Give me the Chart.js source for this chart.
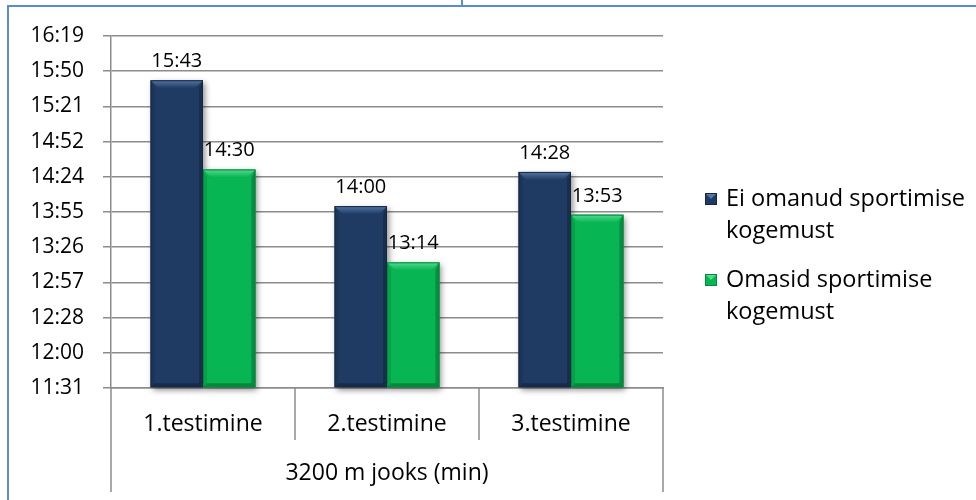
<!DOCTYPE html>
<html>
<head>
<meta charset="utf-8">
<script src="https://cdn.jsdelivr.net/npm/chart.js@4/dist/chart.umd.min.js"></script>
<style>
  html, body { margin: 0; padding: 0; background: #ffffff; }
  #wrap { position: relative; width: 976px; height: 500px; overflow: hidden; }
  #frameTop { position: absolute; left: 8px; top: 5px; width: 968px; height: 0; border-top: 2px solid #5b8bd0; }
  #frameLeft { position: absolute; left: 7px; top: 5px; width: 0; height: 495px; border-left: 2px solid #5b8bd0; }
  #frameTick { position: absolute; left: 461px; top: 0; width: 0; height: 6px; border-left: 2px solid #5b8bd0; }
  canvas { position: absolute; left: 0; top: 0; }
</style>
</head>
<body>
<div id="wrap">
  <canvas id="chart" width="976" height="500"></canvas>
  <div id="frameTop"></div>
  <div id="frameLeft"></div>
  <div id="frameTick"></div>
</div>
<script>
// 3200 m run times (mm:ss) per test round
const categories = ['1.testimine', '2.testimine', '3.testimine'];
const groupLabel = '3200 m jooks (min)';
const seriesNames = [
  ['Ei omanud sportimise', 'kogemust'],
  ['Omasid sportimise', 'kogemust']
];
const noExperienceTimes = ['15:43', '14:00', '14:28'];
const withExperienceTimes = ['14:30', '13:14', '13:53'];
const yTickLabels = ['11:31', '12:00', '12:28', '12:57', '13:26', '13:55',
                     '14:24', '14:52', '15:21', '15:50', '16:19'];
const yMinSeconds = 691.2;
const yStepSeconds = 28.8;

const toSeconds = (t) => {
  const [m, s] = t.split(':').map(Number);
  return m * 60 + s;
};

const FONT = "'Open Sans', 'DejaVu Sans', sans-serif";
const GRID = '#8c8c8c';
const palette = [
  { face: '#1f3b63', light: '#5575a2', edge: '#142946' },
  { face: '#07b552', light: '#55da90', edge: '#038a3c' }
];

// soft drop shadow under every bar
const barShadow = {
  id: 'barShadow',
  beforeDatasetsDraw(chart) {
    const ctx = chart.ctx;
    ctx.save();
    ctx.shadowColor = 'rgba(0,0,0,0.45)';
    ctx.shadowBlur = 6;
    ctx.shadowOffsetX = 2;
    ctx.shadowOffsetY = 3;
    ctx.fillStyle = '#888';
    chart.data.datasets.forEach((ds, i) => {
      chart.getDatasetMeta(i).data.forEach((bar) => {
        const w = bar.width;
        ctx.fillRect(bar.x - w / 2, bar.y, w, bar.base - bar.y);
      });
    });
    ctx.restore();
  }
};

// bevelled edges and value labels
const barBevel = {
  id: 'barBevel',
  afterDatasetsDraw(chart) {
    const ctx = chart.ctx;
    chart.data.datasets.forEach((ds, i) => {
      const col = palette[i];
      chart.getDatasetMeta(i).data.forEach((bar, j) => {
        const L = bar.x - bar.width / 2, R = bar.x + bar.width / 2;
        const T = bar.y, B = bar.base;
        const b = 8, s = 4;
        ctx.save();
        // top facet
        const g = ctx.createLinearGradient(0, T, 0, T + b);
        g.addColorStop(0, col.light);
        g.addColorStop(1, col.face);
        ctx.fillStyle = g;
        ctx.beginPath();
        ctx.moveTo(L, T); ctx.lineTo(R, T); ctx.lineTo(R - b, T + b); ctx.lineTo(L + b, T + b);
        ctx.closePath(); ctx.fill();
        // right facet
        ctx.fillStyle = 'rgba(0,0,0,0.22)';
        ctx.beginPath();
        ctx.moveTo(R, T); ctx.lineTo(R, B); ctx.lineTo(R - s, B - s); ctx.lineTo(R - s, T + b);
        ctx.closePath(); ctx.fill();
        // left facet
        ctx.fillStyle = 'rgba(0,0,0,0.10)';
        ctx.beginPath();
        ctx.moveTo(L, T); ctx.lineTo(L + s, T + b); ctx.lineTo(L + s, B - s); ctx.lineTo(L, B);
        ctx.closePath(); ctx.fill();
        // bottom facet
        ctx.fillStyle = 'rgba(0,0,0,0.25)';
        ctx.beginPath();
        ctx.moveTo(L, B); ctx.lineTo(R, B); ctx.lineTo(R - s, B - s); ctx.lineTo(L + s, B - s);
        ctx.closePath(); ctx.fill();
        // outline
        ctx.strokeStyle = col.edge;
        ctx.lineWidth = 1;
        ctx.strokeRect(L + 0.5, T + 0.5, bar.width - 1, B - T - 1);
        ctx.restore();

        // value label
        ctx.save();
        ctx.font = '20px ' + FONT;
        ctx.fillStyle = '#000';
        ctx.textAlign = 'center';
        ctx.textBaseline = 'alphabetic';
        ctx.fillText(ds.labelsText[j], bar.x, T - 13);
        ctx.restore();
      });
    });
  }
};

// category separators below the axis
const categoryFrame = {
  id: 'categoryFrame',
  afterDraw(chart) {
    const x = chart.scales.x;
    const ctx = chart.ctx;
    const top = chart.chartArea.bottom;
    ctx.save();
    ctx.strokeStyle = GRID;
    ctx.lineWidth = 1.5;
    for (let i = 0; i <= categories.length; i++) {
      const px = x.getPixelForValue(i - 0.5);
      const outer = (i === 0 || i === categories.length);
      ctx.beginPath();
      ctx.moveTo(px, top);
      ctx.lineTo(px, outer ? top + 104 : top + 52);
      ctx.stroke();
    }
    ctx.restore();
  }
};

// legend with wrapped labels
const sideLegend = {
  id: 'sideLegend',
  afterDraw(chart) {
    const ctx = chart.ctx;
    const left = chart.chartArea.right + 42;
    const starts = [199, 280];
    ctx.save();
    ctx.font = '23.5px ' + FONT;
    ctx.textBaseline = 'middle';
    ctx.textAlign = 'left';
    seriesNames.forEach((lines, i) => {
      const col = palette[i];
      const y0 = starts[i];
      const bx = left, by = y0 - 6, bs = 12;
      ctx.fillStyle = col.face;
      ctx.fillRect(bx, by, bs, bs);
      ctx.fillStyle = col.light;
      ctx.beginPath();
      ctx.moveTo(bx, by); ctx.lineTo(bx + bs, by); ctx.lineTo(bx + bs / 2, by + bs / 2);
      ctx.closePath(); ctx.fill();
      ctx.strokeStyle = col.edge;
      ctx.lineWidth = 1;
      ctx.strokeRect(bx + 0.5, by + 0.5, bs - 1, bs - 1);
      ctx.fillStyle = '#000';
      lines.forEach((ln, k) => ctx.fillText(ln, left + 21, y0 + k * 32));
    });
    ctx.restore();
  }
};

new Chart(document.getElementById('chart'), {
  type: 'bar',
  data: {
    labels: categories,
    datasets: [
      {
        label: seriesNames[0].join(' '),
        data: noExperienceTimes.map(toSeconds),
        labelsText: noExperienceTimes,
        backgroundColor: palette[0].face,
        borderWidth: 0
      },
      {
        label: seriesNames[1].join(' '),
        data: withExperienceTimes.map(toSeconds),
        labelsText: withExperienceTimes,
        backgroundColor: palette[1].face,
        borderWidth: 0
      }
    ]
  },
  options: {
    responsive: false,
    animation: false,
    events: [],
    layout: { padding: { left: 0, top: 36, right: 313, bottom: 0 } },
    datasets: { bar: { categoryPercentage: 0.57, barPercentage: 1.0, base: yMinSeconds } },
    plugins: { legend: { display: false }, tooltip: { enabled: false } },
    scales: {
      x: {
        grid: { display: false, drawTicks: false },
        border: { display: true, color: GRID, width: 1.5 },
        ticks: { color: '#000', font: { family: FONT, size: 23 }, padding: 23, maxRotation: 0 },
        title: { display: true, text: groupLabel, color: '#000',
                 font: { family: FONT, size: 23 }, padding: { top: 0, bottom: 13 } },
        afterFit(scale) { scale.height = 112; }
      },
      y: {
        min: yMinSeconds,
        max: yMinSeconds + yStepSeconds * (yTickLabels.length - 1),
        afterBuildTicks(scale) {
          scale.ticks = yTickLabels.map((_, i) => ({ value: yMinSeconds + i * yStepSeconds }));
        },
        grid: { color: GRID, lineWidth: 1.5, tickLength: 8, drawTicks: true },
        border: { display: true, color: GRID, width: 1.5 },
        ticks: {
          color: '#000',
          font: { family: FONT, size: 21 },
          padding: 19,
          callback: (v, i) => yTickLabels[i]
        },
        afterFit(scale) { scale.width = 111; }
      }
    }
  },
  plugins: [barShadow, barBevel, categoryFrame, sideLegend]
});
</script>
</body>
</html>
